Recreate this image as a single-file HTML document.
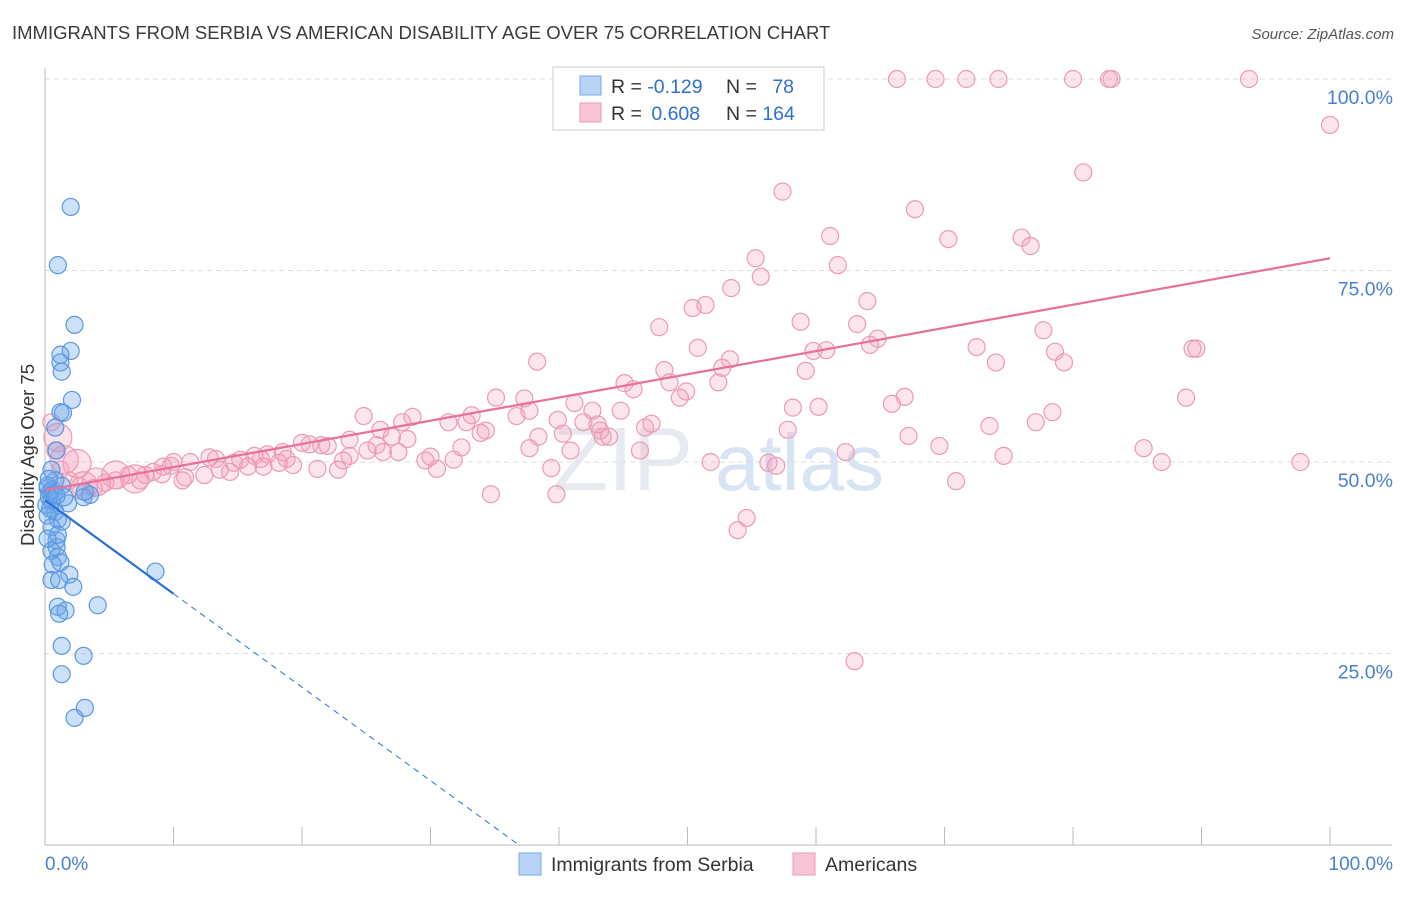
<!DOCTYPE html>
<html><head><meta charset="utf-8"><style>
body{margin:0;background:#fff;font-family:"Liberation Sans",sans-serif;}
svg text{font-family:"Liberation Sans",sans-serif;}
</style></head><body>
<svg id="chart" width="1406" height="892" xmlns="http://www.w3.org/2000/svg">
<text x="12" y="39" font-size="18.5" fill="#3a3a3a">IMMIGRANTS FROM SERBIA VS AMERICAN DISABILITY AGE OVER 75 CORRELATION CHART</text>
<text x="1394" y="39" font-size="15" fill="#555" text-anchor="end" font-style="italic">Source: ZipAtlas.com</text>
<g id="grid"></g>
<text x="553" y="490" font-size="90" fill="#dde3ea" font-family="Liberation Serif" opacity="0.7">ZIP</text>
<text x="715" y="490" font-size="80" fill="#c8daf0" opacity="0.7">atlas</text>
<text transform="translate(34,455) rotate(-90)" font-size="18.5" fill="#333" text-anchor="middle">Disability Age Over 75</text>
<g id="marks"></g>
<g>
<rect x="553" y="67" width="271" height="63" fill="#fff" stroke="#ccc"/>
<rect x="580" y="76" width="21" height="19" fill="#b8d3f5" stroke="#7aaae6"/>
<rect x="580" y="103" width="21" height="19" fill="#f9c5d5" stroke="#eb9ab5"/>
<text x="611" y="93" font-size="19.5" fill="#333">R = <tspan fill="#2f6fd0">-0.129</tspan></text>
<text x="726" y="93" font-size="19.5" fill="#333">N = <tspan fill="#2f6fd0" dx="10">78</tspan></text>
<text x="611" y="120" font-size="19.5" fill="#333">R = <tspan fill="#2f6fd0" dx="4">0.608</tspan></text>
<text x="726" y="120" font-size="19.5" fill="#333">N = <tspan fill="#2f6fd0">164</tspan></text>
</g>
<g>
<rect x="519" y="853" width="22" height="22" fill="#b8d3f5" stroke="#7aaae6"/>
<text x="551" y="871" font-size="19.5" fill="#333">Immigrants from Serbia</text>
<rect x="793" y="853" width="22" height="22" fill="#f9c5d5" stroke="#eb9ab5"/>
<text x="825" y="871" font-size="19.5" fill="#333">Americans</text>
</g>
<text x="45" y="870" font-size="19" fill="#4a80d0">0.0%</text>
<text x="1393" y="870" font-size="19" fill="#4a80d0" text-anchor="end">100.0%</text>
</svg>
<script>
const yTicks=[100,75,50,25];
const yTickLabels=["100.0%","75.0%","50.0%","25.0%"];
const xTicks=[10,20,30,40,50,60,70,80,90,100];
const blueX=[2.0,1.0,2.3,2.0,1.2,1.2,1.3,2.1,1.2,1.4,0.8,0.9,0.5,0.8,0.2,0.4,1.8,3.0,3.5,3.1,0.8,1.0,1.3,0.9,0.9,0.5,1.0,1.2,8.6,1.9,0.5,1.1,2.2,1.0,1.6,4.1,1.1,1.3,3.0,1.3,3.1,2.3,0.2,0.3,0.5,0.6,0.1,0.4,0.7,0.2,1.5,1.3,0.3,0.9,0.5,1.0,0.2,0.6];
const blueY=[83.3,75.7,67.9,64.5,64.0,63.0,61.8,58.1,56.5,56.4,54.5,51.5,49.0,47.6,46.6,46.1,44.6,45.4,45.7,46.1,43.5,42.5,42.2,39.8,38.9,38.4,37.6,36.9,35.7,35.3,34.6,34.6,33.7,31.1,30.6,31.3,30.2,26.0,24.7,22.3,17.9,16.6,46.9,45.4,44.9,46.4,44.4,43.9,45.9,43.0,45.4,46.9,47.8,45.6,41.5,40.5,40.0,36.6];
const pinkX=[66.3,69.3,71.7,74.2,80.0,82.8,83.0,93.7,100,80.8,57.4,67.7,61.1,70.3,76.0,76.7,55.3,61.7,55.7,64.0,53.4,50.4,51.4,47.8,58.8,63.2,77.7,64.8,64.2,50.8,53.3,59.8,60.8,72.5,78.6,79.3,74.0,38.3,89.3,89.6,48.2,52.7,59.2,48.6,52.4,45.1,45.8,49.9,49.4,35.1,37.3,66.9,88.8,65.9,33.2,36.7,37.7,41.2,42.6,44.8,58.2,60.2,78.4,77.1,24.8,28.6,27.8,31.4,32.8,34.3,33.9,39.9,41.9,43.2,46.7,47.2,40.3,43.4,43.9,57.8,73.5,26.1,67.2,27.0,28.2,25.8,23.7,21.5,22.0,20.6,20.0,18.5,18.8,17.3,16.8,16.3,15.2,14.7,13.3,12.8,11.3,10.0,9.8,9.2,7.8,8.4,32.4,30.0,29.6,30.5,31.8,27.5,26.3,25.1,23.7,23.2,22.8,21.2,19.3,18.2,17.0,15.8,14.4,13.6,12.4,10.9,10.7,9.1,7.4,6.5,5.5,4.7,3.8,2.7,1.9,1.2,0.8,0.5,39.4,37.7,40.9,46.3,51.8,56.3,56.9,62.3,69.6,74.6,85.5,86.9,97.7,70.9,39.8,34.7,54.6,53.9,63.0,43.0,38.4];
const pinkY=[100,100,100,100,100,100,100,100,94.0,87.8,85.3,83.0,79.5,79.1,79.3,78.2,76.6,75.7,74.2,71.0,72.7,70.1,70.5,67.6,68.3,68.0,67.2,66.1,65.3,64.9,63.4,64.5,64.6,65.0,64.4,63.0,63.0,63.1,64.8,64.8,62.0,62.3,61.9,60.4,60.4,60.3,59.5,59.2,58.4,58.4,58.3,58.5,58.4,57.6,56.1,56.0,56.7,57.7,56.7,56.7,57.1,57.2,56.5,55.2,56.0,55.9,55.2,55.2,55.2,54.1,53.8,55.5,55.2,54.1,54.5,55.0,53.7,53.3,53.3,54.2,54.7,54.2,53.4,53.3,53.0,52.2,52.9,52.2,52.1,52.3,52.5,51.3,50.4,51.0,50.4,50.8,50.3,49.9,50.4,50.6,50.0,50.0,49.5,49.4,48.3,48.7,51.9,50.7,50.2,49.1,50.3,51.3,51.3,51.5,50.8,50.2,49.0,49.1,49.6,49.9,49.4,49.4,48.7,49.0,48.3,48.0,47.6,48.4,47.6,48.3,47.6,47.3,46.6,46.8,47.6,49.0,51.5,55.2,49.2,51.8,51.5,51.5,50.0,49.9,49.5,51.3,52.1,50.8,51.8,50.0,50.0,47.5,45.8,45.8,42.7,41.1,24.0,54.9,53.3];
const bigPinkX=[1.0,2.5,4.0,5.5,7.0,3.0,1.5];
const bigPinkY=[53.2,49.8,47.4,48.3,47.8,46.9,50.3];
const blueFit=[45.0,-1.22];
const pinkFit=[46.3,0.303];

const NS="http://www.w3.org/2000/svg";
const X0=45,X1=1330,YT=79,YB=845;
const xs=v=>X0+v*(X1-X0)/100;
const ys=v=>YB-v*(YB-YT)/100;
function mk(tag,attrs,parent){const e=document.createElementNS(NS,tag);for(const k in attrs)e.setAttribute(k,attrs[k]);parent.appendChild(e);return e;}
const grid=document.getElementById('grid');
const marks=document.getElementById('marks');
yTicks.forEach((t,i)=>{
  const l=mk('line',{x1:45,x2:1392,y1:ys(t),y2:ys(t),stroke:'#ddd','stroke-dasharray':'5,4'},grid);
  
  
  const tx=mk('text',{x:1393,y:ys(t)+25,'font-size':19.5,fill:'#4a80d0','text-anchor':'end'},grid);
  tx.textContent=yTickLabels[i];
  
  
});
const ax=mk('line',{x1:45,x2:1392,y1:845,y2:845,stroke:'#bbb'},grid);


const ay=mk('line',{x1:45,x2:45,y1:68,y2:845,stroke:'#bbb'},grid);


xTicks.forEach(t=>{
  const l=mk('line',{x1:xs(t),x2:xs(t),y1:827,y2:845,stroke:'#bbb'},grid);
  
  
});
for(let i=0;i<pinkX.length;i++){
  const c=mk('circle',{cx:xs(pinkX[i]),cy:ys(pinkY[i]),r:8.5,fill:'rgba(244,160,188,0.28)',stroke:'#ec9ab6','stroke-width':1.2},marks);
  
  
}
for(let i=0;i<bigPinkX.length;i++){
  const c=mk('circle',{cx:xs(bigPinkX[i]),cy:ys(bigPinkY[i]),r:14,fill:'rgba(244,160,188,0.3)',stroke:'#ec9ab6','stroke-width':1.2},marks);
  
  
}
for(let i=0;i<blueX.length;i++){
  const c=mk('circle',{cx:xs(blueX[i]),cy:ys(blueY[i]),r:8.5,fill:'rgba(110,165,235,0.35)',stroke:'#5b97e0','stroke-width':1.2},marks);
  
  
}
const pl=mk('line',{x1:xs(0),y1:ys(pinkFit[0]),x2:xs(100),y2:ys(pinkFit[0]+pinkFit[1]*100),stroke:'#e8709a','stroke-width':2.2},marks);


const bl=mk('line',{x1:xs(0),y1:ys(blueFit[0]),x2:xs(10),y2:ys(blueFit[0]+blueFit[1]*10),stroke:'#2a6fd6','stroke-width':2.2},marks);


const xEnd=-blueFit[0]/blueFit[1];
const bd=mk('line',{x1:xs(10),y1:ys(blueFit[0]+blueFit[1]*10),x2:xs(xEnd),y2:ys(0),stroke:'#2a6fd6','stroke-width':1,'stroke-dasharray':'6,5'},marks);


</script>
</body></html>
